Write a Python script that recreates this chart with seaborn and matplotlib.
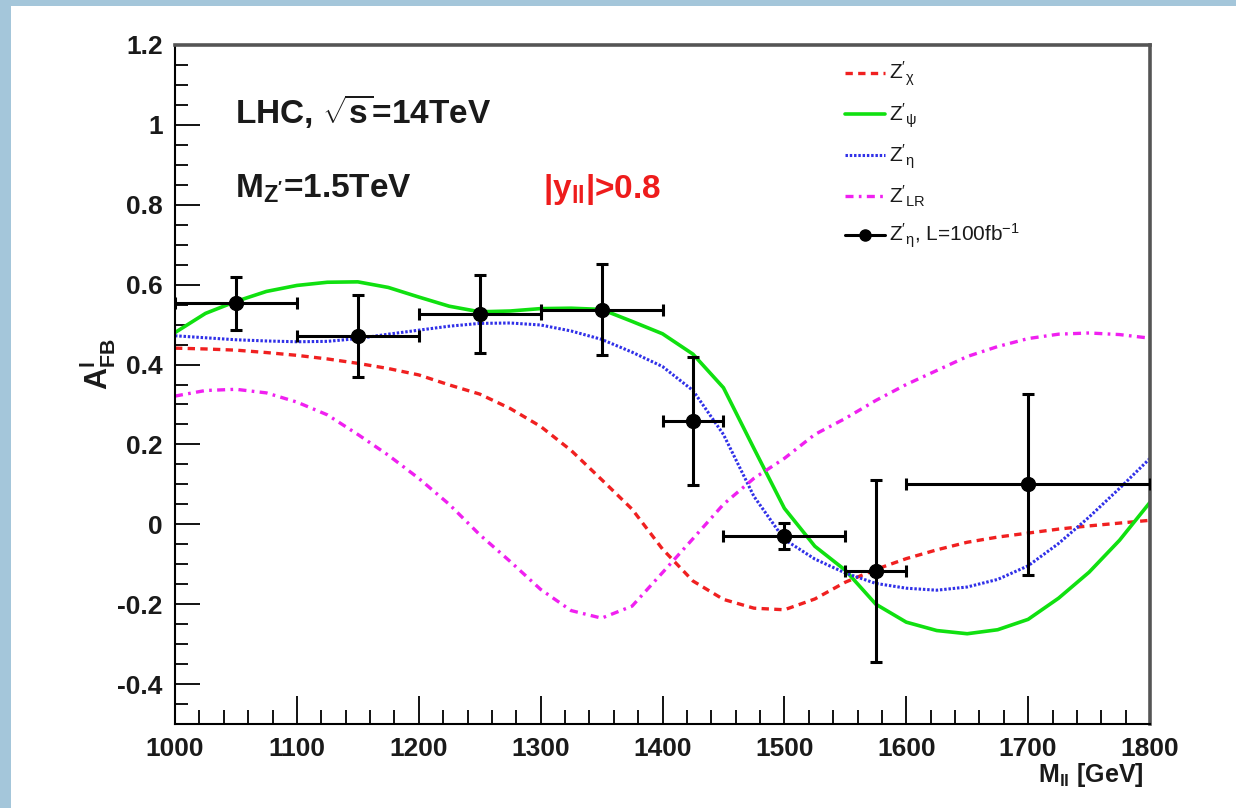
import numpy as np
import pandas as pd
import matplotlib
matplotlib.use("Agg")
import matplotlib.pyplot as plt
from matplotlib.patches import Rectangle
from matplotlib.lines import Line2D
from matplotlib.ticker import MultipleLocator
import seaborn as sns

# ---- data -------------------------------------------------------------
mass = [1000, 1025, 1050, 1075, 1100, 1125, 1150, 1175, 1200, 1225, 1250,
        1275, 1300, 1325, 1350, 1375, 1400, 1425, 1450, 1475, 1500, 1525,
        1550, 1575, 1600, 1625, 1650, 1675, 1700, 1725, 1750, 1775, 1800]

afb_chi = [0.441, 0.439, 0.436, 0.430, 0.423, 0.414, 0.403, 0.390, 0.374,
           0.349, 0.326, 0.290, 0.245, 0.185, 0.112, 0.038, -0.062, -0.142,
           -0.188, -0.210, -0.214, -0.187, -0.145, -0.113, -0.086, -0.064,
           -0.045, -0.032, -0.022, -0.012, -0.004, 0.003, 0.010]

afb_psi = [0.480, 0.528, 0.558, 0.583, 0.598, 0.606, 0.607, 0.593, 0.569,
           0.546, 0.532, 0.534, 0.540, 0.541, 0.538, 0.508, 0.477, 0.426,
           0.342, 0.190, 0.040, -0.055, -0.115, -0.200, -0.245, -0.266,
           -0.274, -0.264, -0.238, -0.185, -0.120, -0.040, 0.055]

afb_eta = [0.472, 0.467, 0.462, 0.459, 0.457, 0.458, 0.465, 0.476, 0.486,
           0.496, 0.503, 0.504, 0.499, 0.484, 0.463, 0.431, 0.395, 0.335,
           0.225, 0.070, -0.038, -0.087, -0.122, -0.148, -0.160, -0.165,
           -0.157, -0.138, -0.104, -0.048, 0.018, 0.090, 0.165]

afb_lr = [0.321, 0.335, 0.338, 0.329, 0.306, 0.274, 0.225, 0.173, 0.115,
          0.050, -0.026, -0.093, -0.163, -0.216, -0.235, -0.205, -0.121,
          -0.036, 0.050, 0.115, 0.165, 0.225, 0.265, 0.310, 0.350, 0.385,
          0.420, 0.445, 0.465, 0.476, 0.479, 0.475, 0.466]

# pseudo-data for Z'_eta at L = 100 fb^-1
bin_center = [1050, 1150, 1250, 1350, 1425, 1500, 1575, 1700]
bin_halfwidth = [50, 50, 50, 50, 25, 50, 25, 100]
afb_data = [0.553, 0.471, 0.526, 0.537, 0.258, -0.030, -0.118, 0.100]
afb_err = [0.066, 0.103, 0.097, 0.114, 0.160, 0.032, 0.228, 0.227]

# ---- style ------------------------------------------------------------
sns.set_theme(style="ticks")
plt.rcParams["font.family"] = ["Liberation Sans", "DejaVu Sans"]
plt.rcParams["mathtext.fontset"] = "custom"
plt.rcParams["mathtext.rm"] = "Liberation Sans"
plt.rcParams["mathtext.it"] = "Liberation Sans"
plt.rcParams["mathtext.bf"] = "Liberation Sans:bold"
plt.rcParams["mathtext.default"] = "rm"

W, H = 1236, 808
fig = plt.figure(figsize=(W / 100, H / 100), dpi=100)
fig.patch.set_facecolor("#a4c6da")
fig.add_artist(Rectangle((11 / W, 0), 1 - 11 / W, 1 - 6 / H,
                         transform=fig.transFigure, facecolor="white",
                         edgecolor="none", zorder=0))

ax = fig.add_axes([175 / W, 1 - 724 / H, (1150 - 175) / W, (724 - 45) / H])
ax.set_facecolor("white")

curves = pd.DataFrame({"mass": mass, "chi": afb_chi, "psi": afb_psi,
                       "eta": afb_eta, "lr": afb_lr})

styles = {
    "chi": dict(color="#f02020", lw=2.4, dashes=(2.2, 1.6)),
    "psi": dict(color="#10e010", lw=2.6, dashes=None),
    "eta": dict(color="#3030e8", lw=2.2, dashes=(0.8, 0.6)),
    "lr": dict(color="#f020f0", lw=2.4, dashes=(2.4, 1.6, 0.8, 1.6)),
}

for key, st in styles.items():
    sns.lineplot(data=curves, x="mass", y=key, ax=ax, color=st["color"],
                 lw=st["lw"], sort=False, estimator=None, legend=False)
    line = ax.lines[-1]
    if st["dashes"] is not None:
        line.set_dashes(st["dashes"])

ax.errorbar(bin_center, afb_data, xerr=bin_halfwidth, yerr=afb_err,
            fmt="o", color="black", ms=10, elinewidth=2.2, capsize=4,
            capthick=2.2, zorder=5)

ax.set_xlim(1000, 1800)
ax.set_ylim(-0.5, 1.2)
ax.xaxis.set_major_locator(MultipleLocator(100))
ax.xaxis.set_minor_locator(MultipleLocator(20))
ax.yaxis.set_major_locator(MultipleLocator(0.2))
ax.yaxis.set_minor_locator(MultipleLocator(0.05))
ax.yaxis.set_major_formatter(plt.FuncFormatter(
    lambda v, p: "0" if abs(v) < 1e-9 else ("1" if abs(v - 1) < 1e-9 else f"{v:.1f}")))

ax.tick_params(axis="both", which="both", direction="in", top=False,
               right=False, color="black", width=1.3)
ax.tick_params(axis="x", which="major", length=20, pad=9)
ax.tick_params(axis="x", which="minor", length=10)
ax.tick_params(axis="y", which="major", length=18, pad=9)
ax.tick_params(axis="y", which="minor", length=9)
for lab in ax.get_xticklabels() + ax.get_yticklabels():
    lab.set_fontsize(19)
    lab.set_fontweight("bold")
    lab.set_color("#1a1a1a")

for side in ["left", "bottom"]:
    ax.spines[side].set_color("black")
    ax.spines[side].set_linewidth(1.5)
for side in ["top", "right"]:
    ax.spines[side].set_color("#555555")
    ax.spines[side].set_linewidth(2.6)

ax.set_ylabel(r"$\mathbf{A^{l}_{FB}}$", fontsize=22, color="#1a1a1a")
ax.yaxis.set_label_coords(-0.058, 0.53)
ax.set_xlabel(r"M$_{\mathbf{ll}}$ [GeV]", fontsize=18, fontweight="bold",
              color="#1a1a1a", loc="right")
ax.xaxis.set_label_coords(0.993, -0.055)

ax.text(0.062, 0.885, r"LHC, $\sqrt{\mathbf{s}}$=14TeV", transform=ax.transAxes,
        fontsize=24, fontweight="bold", color="#1a1a1a", va="baseline")
ax.text(0.062, 0.775, r"M$_{\mathbf{Z'}}$=1.5TeV", transform=ax.transAxes,
        fontsize=24, fontweight="bold", color="#1a1a1a", va="baseline")
ax.text(0.377, 0.775, r"|y$_{\mathbf{ll}}$|>0.8", transform=ax.transAxes,
        fontsize=24, fontweight="bold", color="#ee1c1c", va="baseline")

handles = [
    Line2D([], [], color=styles["chi"]["color"], lw=2.4, dashes=(2.2, 1.6)),
    Line2D([], [], color=styles["psi"]["color"], lw=2.6),
    Line2D([], [], color=styles["eta"]["color"], lw=2.2, dashes=(0.8, 0.6)),
    Line2D([], [], color=styles["lr"]["color"], lw=2.4,
           dashes=(2.4, 1.6, 0.8, 1.6)),
    Line2D([], [], color="black", lw=2.2, marker="o", ms=8),
]
labels = [r"$Z'_{\chi}$", r"$Z'_{\psi}$", r"$Z'_{\eta}$", r"$Z'_{LR}$",
          r"$Z'_{\eta}$, L=100fb$^{-1}$"]
leg = ax.legend(handles, labels, loc="upper left",
                bbox_to_anchor=(845 / W, 1 - 60 / H),
                bbox_transform=fig.transFigure, frameon=False, fontsize=15,
                handlelength=1.9, handletextpad=0.2, labelspacing=0.62,
                borderpad=0, borderaxespad=0)
for t in leg.get_texts():
    t.set_color("#1a1a1a")

fig.savefig("out.png", dpi=100, facecolor=fig.get_facecolor())
